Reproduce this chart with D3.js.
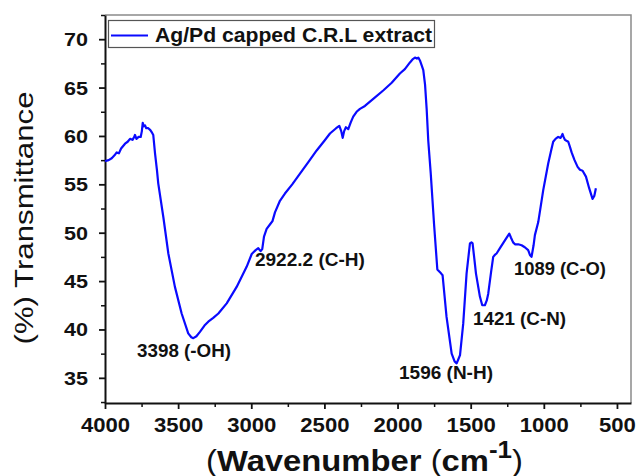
<!DOCTYPE html>
<html><head><meta charset="utf-8">
<script src="https://cdn.jsdelivr.net/npm/d3@7"></script>
<style>body{margin:0;background:#fff}svg{display:block}text{font-family:"Liberation Sans",Arial,sans-serif;fill:#111}</style>
</head><body><svg id="c" width="636" height="476"></svg>
<script>
const wavenumber = [4000,3975,3954,3935,3920,3905,3890,3863,3845,3829,3812,3800,3795,3785,3770,3756,3748,3742,3735,3727,3718,3704,3690,3681,3670,3658,3645,3636,3601,3567,3522,3476,3431,3410,3396,3375,3351,3320,3294,3260,3225,3168,3100,3031,2997,2970,2952,2936,2925,2913,2895,2870,2855,2838,2804,2770,2720,2667,2610,2553,2500,2462,2420,2398,2385,2375,2365,2353,2337,2320,2303,2280,2257,2223,2160,2098,2040,1984,1950,1915,1895,1881,1868,1858,1847,1835,1824,1812,1801,1790,1773,1750,1728,1703,1692,1665,1630,1610,1596,1585,1573,1551,1528,1505,1495,1487,1475,1464,1437,1421,1403,1390,1380,1360,1346,1335,1323,1300,1266,1245,1236,1225,1210,1197,1175,1152,1130,1107,1095,1084,1070,1061,1038,1004,970,950,936,920,902,885,872,865,856,845,833,822,810,790,769,753,735,712,690,667,655,644];
const transmittance = [57.4,57.5,57.7,58.0,58.3,58.2,58.7,59.2,59.4,59.7,59.6,59.9,60.1,59.7,59.9,59.9,60.5,61.35,61.0,61.1,60.8,60.8,60.6,60.4,60.1,58.2,56.5,55.1,51.6,47.85,44.4,41.65,39.6,39.2,39.1,39.3,39.75,40.4,40.8,41.2,41.65,42.7,44.4,46.5,47.8,48.2,48.4,48.1,48.3,49.6,50.4,50.9,51.2,52.1,53.3,54.05,55.0,56.1,57.3,58.5,59.5,60.25,60.8,61.05,60.5,59.8,60.5,60.9,60.7,61.4,62.0,62.5,62.8,63.1,63.9,64.7,65.5,66.45,66.9,67.6,67.95,68.1,68.0,68.1,67.8,67.3,66.8,65.3,62.8,59.5,56.1,50.8,46.2,45.8,45.6,41.3,37.5,36.7,36.5,36.9,37.35,40.6,45.8,48.9,49.0,48.9,47.3,45.8,43.4,42.5,42.5,43.0,43.7,46.0,47.5,47.7,47.85,48.4,49.2,49.7,49.9,49.5,49.0,48.8,48.8,48.7,48.5,48.2,47.7,47.5,48.7,49.75,51.1,54.4,57.15,58.5,59.4,59.7,59.9,59.8,60.2,59.9,59.6,59.5,59.4,58.9,58.3,57.5,56.8,56.5,56.4,55.8,54.6,53.5,53.8,54.6];
const xTicks = [4000,3500,3000,2500,2000,1500,1000,500];
const xMinor = [3750,3250,2750,2250,1750,1250,750];
const yTicks = [35,40,45,50,55,60,65,70];
const yMinor = [32.5,37.5,42.5,47.5,52.5,57.5,62.5,67.5,72.5];
const xDomain = [4000,404];
const yDomain = [32.4,72.5];
const seriesName = "Ag/Pd capped C.R.L extract";
const annLabels = ["3398 (-OH)","2922.2 (C-H)","1596 (N-H)","1421 (C-N)","1089 (C-O)"];
const annX = [3781,2975,1990,1484,1204];
const annY = [37.14,46.54,34.87,40.45,45.61];
const annW = [94,110,94,93,92];

const svg = d3.select("#c");
svg.append("rect").attr("width",636).attr("height",476).attr("fill","#fff");
const L=105,R=631,T=15,B=403;
const x = d3.scaleLinear().domain(xDomain).range([L,R]);
const y = d3.scaleLinear().domain(yDomain).range([B,T]);

// frame (top/right)
svg.append("path").attr("d",`M${L},${T}H${R}V${B}`).attr("fill","none").attr("stroke","#8a8a8a").attr("stroke-width",1.5);

// minor ticks
svg.append("g").attr("transform",`translate(0,${B})`)
  .call(d3.axisBottom(x).tickValues(xMinor).tickSize(4).tickSizeOuter(0).tickFormat(""))
  .call(g=>{g.select(".domain").remove();g.selectAll("line").attr("stroke","#111").attr("stroke-width",1.5);});
svg.append("g").attr("transform",`translate(${L},0)`)
  .call(d3.axisLeft(y).tickValues(yMinor).tickSize(4).tickSizeOuter(0).tickFormat(""))
  .call(g=>{g.select(".domain").remove();g.selectAll("line").attr("stroke","#111").attr("stroke-width",1.5);});

// major axes
const gx = svg.append("g").attr("transform",`translate(0,${B})`)
  .call(d3.axisBottom(x).tickValues(xTicks).tickSize(6).tickSizeOuter(0).tickPadding(10).tickFormat(d3.format("d")));
gx.select(".domain").attr("stroke","#111").attr("stroke-width",2);
gx.selectAll("line").attr("stroke","#111").attr("stroke-width",1.8);
gx.selectAll("text").attr("font-size",20).attr("font-weight","bold").attr("fill","#111")
  .attr("dy",null).attr("y",28.5)
  .attr("textLength",d=>String(d).length*12.3).attr("lengthAdjust","spacingAndGlyphs");

const gy = svg.append("g").attr("transform",`translate(${L},0)`)
  .call(d3.axisLeft(y).tickValues(yTicks).tickSize(6).tickSizeOuter(0).tickPadding(11));
gy.select(".domain").attr("stroke","#111").attr("stroke-width",2);
gy.selectAll("line").attr("stroke","#111").attr("stroke-width",1.8);
gy.selectAll("text").attr("font-size",18).attr("font-weight","bold").attr("fill","#111")
  .attr("dy","0.36em").attr("x",-17)
  .attr("textLength",d=>String(d).length*12).attr("lengthAdjust","spacingAndGlyphs");

// series
const line = d3.line().x((d,i)=>x(wavenumber[i])).y(d=>y(d));
svg.append("path").datum(transmittance).attr("d",line)
  .attr("fill","none").attr("stroke","#0a0aff").attr("stroke-width",2.2).attr("stroke-linejoin","round");

// annotations
annLabels.forEach((t,i)=>{
  svg.append("text").attr("x",x(annX[i])).attr("y",y(annY[i]))
    .attr("font-size",18).attr("font-weight","bold").text(t)
    .attr("textLength",annW[i]).attr("lengthAdjust","spacingAndGlyphs");
});

// legend
svg.append("rect").attr("x",108.5).attr("y",20.5).attr("width",326).attr("height",27)
  .attr("fill","#fff").attr("stroke","#555").attr("stroke-width",1.2);
svg.append("line").attr("x1",111).attr("x2",148).attr("y1",35.5).attr("y2",35.5)
  .attr("stroke","#0a0aff").attr("stroke-width",2.2);
svg.append("text").attr("x",155).attr("y",42).attr("font-size",19.5).attr("font-weight","bold")
  .attr("textLength",277).attr("lengthAdjust","spacingAndGlyphs").text(seriesName);

// y title
svg.append("text").attr("transform","translate(33,218) rotate(-90)").attr("text-anchor","middle")
  .attr("font-size",25).attr("textLength",253).attr("lengthAdjust","spacingAndGlyphs").text("(%) Transmittance");

// x title
const xt = svg.append("text").attr("x",206).attr("y",471).attr("font-size",29);
xt.append("tspan").attr("font-weight","normal").text("(");
xt.append("tspan").attr("font-weight","bold").text("Wavenumber ");
xt.append("tspan").attr("font-weight","normal").text("(");
xt.append("tspan").attr("font-weight","bold").text("cm");
xt.append("tspan").attr("font-weight","bold").attr("font-size",23).attr("dy",-13).text("-1");
xt.append("tspan").attr("font-weight","normal").attr("dy",13).text(")");
xt.attr("textLength",317).attr("lengthAdjust","spacingAndGlyphs");
</script></body></html>
